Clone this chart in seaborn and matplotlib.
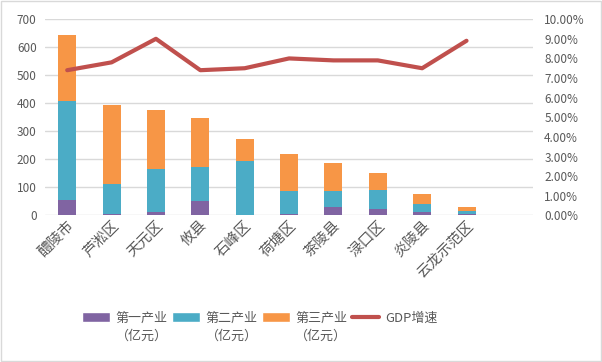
import numpy as np
import pandas as pd
import matplotlib
matplotlib.use("Agg")
import matplotlib.pyplot as plt
import seaborn as sns
from matplotlib.ticker import FuncFormatter, MultipleLocator
from matplotlib.patches import Patch, Rectangle
from matplotlib.lines import Line2D

categories = ["醴陵市", "芦淞区", "天元区", "攸县", "石峰区", "荷塘区", "茶陵县", "渌口区", "炎陵县", "云龙示范区"]
primary = [55, 4, 12, 51, 1, 4, 30, 22, 12, 5]
secondary = [353, 108, 153, 121, 193, 83, 57, 68, 29, 10]
tertiary = [236, 282, 211, 175, 78, 132, 100, 61, 35, 15]
gdp_growth = [7.4, 7.8, 9.0, 7.4, 7.5, 8.0, 7.9, 7.9, 7.5, 8.9]
series_names = ["第一产业", "第二产业", "第三产业", "GDP增速"]
unit_label = "（亿元）"

sns.set_theme(style="white")
plt.rcParams["font.family"] = ["Noto Sans CJK SC", "DejaVu Sans"]

colors = ["#8064A2", "#4BACC6", "#F79646"]
line_color = "#C0504D"
text_color = "#595959"
grid_color = "#D9D9D9"

df = pd.DataFrame({"cat": categories, "p": primary, "s": secondary, "t": tertiary, "g": gdp_growth})
order = categories + [" "]

fig = plt.figure(figsize=(6.02, 3.62), dpi=100)
ax = fig.add_axes([0.0748, 0.405, 0.8107, 0.542])

b1 = np.zeros(len(df))
b2 = df["p"].values
b3 = df["p"].values + df["s"].values
for col, bottom, c in [("p", b1, colors[0]), ("s", b2, colors[1]), ("t", b3, colors[2])]:
    sns.barplot(data=df, x="cat", y=col, order=order, bottom=bottom, color=c,
                width=0.405, saturation=1, ax=ax, errorbar=None, linewidth=0)

ax.set_ylim(0, 700)
ax.set_xlim(-0.5, 10.5)
ax.yaxis.set_major_locator(MultipleLocator(100))
ax.grid(axis="y", color=grid_color, linewidth=1)
ax.set_axisbelow(True)
for s in ax.spines.values():
    s.set_visible(False)
ax.set_xlabel("")
ax.set_ylabel("")
ax.tick_params(axis="y", length=0, labelsize=8.5, labelcolor=text_color, pad=6)
ax.tick_params(axis="x", length=0, labelsize=10.5, labelcolor=text_color, pad=2)
ax.set_xticks(range(11))
ax.set_xticklabels(order, rotation=45, ha="right", rotation_mode="anchor")

ax2 = ax.twinx()
sns.lineplot(x=np.arange(len(categories)), y=df["g"].values, ax=ax2, color=line_color, linewidth=3)
ax2.set_ylim(0, 10)
ax2.set_xlim(-0.5, 10.5)
ax2.yaxis.set_major_locator(MultipleLocator(1))
ax2.yaxis.set_major_formatter(FuncFormatter(lambda v, p: f"{v:.2f}%"))
for s in ax2.spines.values():
    s.set_visible(False)
ax2.set_ylabel("")
ax2.tick_params(axis="y", length=0, labelsize=8.5, labelcolor=text_color, pad=8)
ax2.grid(False)

handles = [Patch(facecolor=colors[0]), Patch(facecolor=colors[1]), Patch(facecolor=colors[2]),
           Line2D([0], [0], color=line_color, linewidth=3)]
leg = fig.legend(handles, series_names, loc="center", bbox_to_anchor=(0.432, 0.122), ncol=4,
                 frameon=False, fontsize=9.4, handlelength=2.1, handleheight=0.75,
                 handletextpad=0.45, columnspacing=0.35)
for t in leg.get_texts():
    t.set_color(text_color)

fig.canvas.draw()
renderer = fig.canvas.get_renderer()
inv = fig.transFigure.inverted()
for t in leg.get_texts()[:3]:
    bb = t.get_window_extent(renderer)
    (x0, y0), (x1, y1) = inv.transform([(bb.x0, bb.y0), (bb.x1, bb.y1)])
    fig.text((x0 + x1) / 2, y0 - 0.015, unit_label, ha="center", va="top",
             fontsize=9.4, color=text_color)

fig.patches.append(Rectangle((0.002, 0.003), 0.996, 0.994, transform=fig.transFigure,
                             fill=False, edgecolor="#D9D9D9", linewidth=1))

fig.savefig("out.png", dpi=100)
